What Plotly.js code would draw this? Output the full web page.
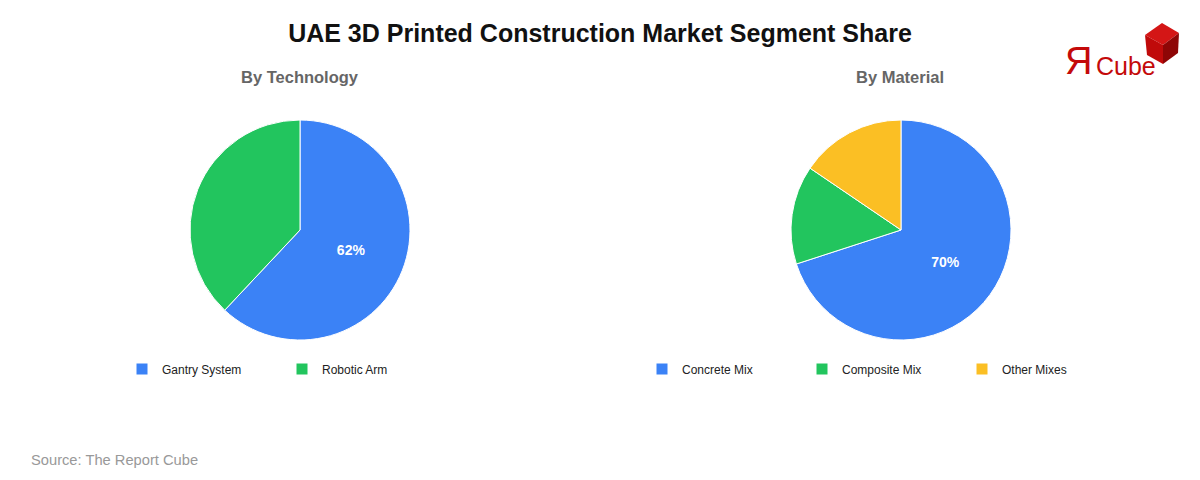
<!DOCTYPE html>
<html>
<head>
<meta charset="utf-8">
<script src="https://cdn.plot.ly/plotly-3.0.1.min.js"></script>
<style>
html,body{margin:0;padding:0;background:#fff;}
#chart{width:1200px;height:480px;}
</style>
</head>
<body>
<div id="chart"></div>
<script>
// ---- data ----
const chartTitle = "UAE 3D Printed Construction Market Segment Share";
const techTitle = "By Technology";
const techLabels = ["Gantry System", "Robotic Arm"];
const techValues = [62, 38];
const techColors = ["#3b82f6", "#22c55e"];

const matTitle = "By Material";
const matLabels = ["Concrete Mix", "Composite Mix", "Other Mixes"];
const matValues = [70, 14.5, 15.5];
const matColors = ["#3b82f6", "#22c55e", "#fbbf24"];

const sourceText = "Source: The Report Cube";

// ---- helpers ----
const W = 1200, H = 480;
const px = x => x / W;
const py = y => 1 - y / H;

function labelTexts(values) {
  const total = values.reduce((a, b) => a + b, 0);
  return values.map(v => (v / total >= 0.5 ? Math.round(v / total * 100) + "%" : ""));
}

const pieFont = {family: "Liberation Sans, Arial, sans-serif", size: 14, color: "#ffffff", weight: "bold"};

const traces = [
  {
    type: "pie",
    labels: techLabels,
    values: techValues,
    marker: {colors: techColors, line: {color: "#ffffff", width: 1}},
    sort: false,
    direction: "clockwise",
    rotation: 0,
    text: labelTexts(techValues),
    textinfo: "text",
    textposition: "inside",
    insidetextfont: pieFont,
    hoverinfo: "label+percent",
    domain: {x: [px(190), px(410)], y: [py(340), py(120)]},
    legend: "legend"
  },
  {
    type: "pie",
    labels: matLabels,
    values: matValues,
    marker: {colors: matColors, line: {color: "#ffffff", width: 1}},
    sort: false,
    direction: "clockwise",
    rotation: 0,
    text: labelTexts(matValues),
    textinfo: "text",
    textposition: "inside",
    insidetextfont: pieFont,
    hoverinfo: "label+percent",
    domain: {x: [px(791), px(1011)], y: [py(340), py(120)]},
    legend: "legend2"
  }
];

const legendBase = {
  orientation: "h",
  xref: "container",
  yref: "container",
  yanchor: "middle",
  y: py(369),
  xanchor: "left",
  entrywidth: 115,
  entrywidthmode: "pixels",
  font: {family: "Liberation Sans, Arial, sans-serif", size: 12, color: "#222"},
  bgcolor: "rgba(0,0,0,0)",
  borderwidth: 0,
  traceorder: "normal",
  itemclick: false,
  itemdoubleclick: false
};

const layout = {
  width: W,
  height: H,
  margin: {l: 0, r: 0, t: 0, b: 0, autoexpand: false},
  paper_bgcolor: "#ffffff",
  plot_bgcolor: "#ffffff",
  showlegend: true,
  font: {family: "Liberation Sans, Arial, sans-serif"},
  title: {
    text: "<b>" + chartTitle + "</b>",
    x: 0.5, xanchor: "center",
    y: py(33), yanchor: "middle",
    yref: "container",
    font: {family: "Liberation Sans, Arial, sans-serif", size: 25, color: "#111111"}
  },
  legend: Object.assign({}, legendBase, {x: px(122)}),
  legend2: Object.assign({}, legendBase, {x: px(642)}),
  annotations: [
    {text: "<b>" + techTitle + "</b>", x: px(300), y: py(77), xref: "paper", yref: "paper",
     xanchor: "center", yanchor: "middle", showarrow: false,
     font: {family: "Liberation Sans, Arial, sans-serif", size: 16.5, color: "#666666"}},
    {text: "<b>" + matTitle + "</b>", x: px(900), y: py(77), xref: "paper", yref: "paper",
     xanchor: "center", yanchor: "middle", showarrow: false,
     font: {family: "Liberation Sans, Arial, sans-serif", size: 16.5, color: "#666666"}},
    {text: sourceText, x: px(29), y: py(460), xref: "paper", yref: "paper",
     xanchor: "left", yanchor: "middle", showarrow: false,
     font: {family: "Liberation Sans, Arial, sans-serif", size: 14.7, color: "#999999"}},
    // logo text
    {text: "Я", x: px(1063), y: py(61), xref: "paper", yref: "paper",
     xanchor: "left", yanchor: "middle", showarrow: false,
     font: {family: "Liberation Sans, Arial, sans-serif", size: 38, color: "#c40a0a"}},
    {text: "Cube", x: px(1094), y: py(66), xref: "paper", yref: "paper",
     xanchor: "left", yanchor: "middle", showarrow: false,
     font: {family: "Liberation Sans, Arial, sans-serif", size: 25, color: "#c40a0a"}}
  ],
  shapes: [
    // logo cube: top, left, right faces
    {type: "path", xref: "paper", yref: "paper", line: {width: 0}, fillcolor: "#d41616",
     path: `M${px(1145)},${py(35)} L${px(1162)},${py(23)} L${px(1179)},${py(33)} L${px(1163)},${py(45)} Z`},
    {type: "path", xref: "paper", yref: "paper", line: {width: 0}, fillcolor: "#c00a0a",
     path: `M${px(1145)},${py(35)} L${px(1163)},${py(45)} L${px(1163)},${py(64)} L${px(1147)},${py(55)} Z`},
    {type: "path", xref: "paper", yref: "paper", line: {width: 0}, fillcolor: "#8e0606",
     path: `M${px(1163)},${py(45)} L${px(1179)},${py(33)} L${px(1178)},${py(53)} L${px(1163)},${py(64)} Z`}
  ]
};

Plotly.newPlot("chart", traces, layout, {displayModeBar: false, staticPlot: true});
</script>
</body>
</html>
